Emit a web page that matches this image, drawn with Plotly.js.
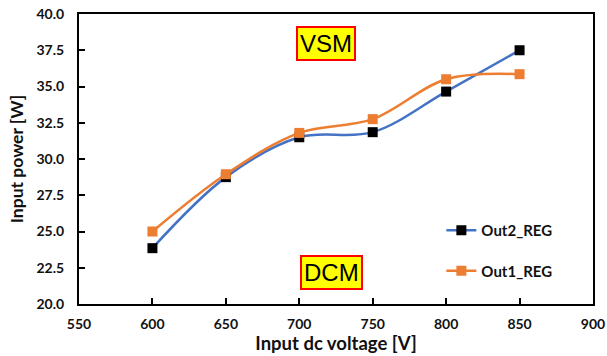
<!DOCTYPE html>
<html>
<head>
<meta charset="utf-8">
<script src="https://cdn.plot.ly/plotly-3.0.1.min.js"></script>
<style>
  html, body { margin: 0; padding: 0; background: #fff; }
  #chart { width: 607px; height: 356px; }
</style>
</head>
<body>
<div id="chart"></div>
<script>
// Input dc voltage [V]
const voltage = [600, 650, 700, 750, 800, 850];
// Input power [W] for each regulated output
const out2Reg = [23.85, 28.75, 31.5, 31.85, 34.65, 37.5];
const out1Reg = [25.0, 28.95, 31.8, 32.75, 35.5, 35.85];

const xTicks = [550, 600, 650, 700, 750, 800, 850, 900];
const yTicks = [20.0, 22.5, 25.0, 27.5, 30.0, 32.5, 35.0, 37.5, 40.0];

const fam = 'Lato, "Open Sans", sans-serif';
const tickFont = { family: fam, size: 14, color: '#111', weight: 'bold' };

const traces = [
  {
    x: voltage, y: out2Reg, name: 'Out2_REG', legendgroup: 'a',
    mode: 'lines+markers', type: 'scatter',
    line: { color: '#4472C4', width: 2.5, shape: 'spline', smoothing: 1 },
    marker: { symbol: 'square', size: 10, color: '#000000' }
  },
  {
    x: voltage, y: out1Reg, name: 'Out1_REG', legendgroup: 'b',
    mode: 'lines+markers', type: 'scatter',
    line: { color: '#ED7D31', width: 2.5, shape: 'spline', smoothing: 1 },
    marker: { symbol: 'square', size: 10, color: '#ED7D31' }
  }
];

const boxNote = (text, x, y) => ({
  text: text, x: x, y: y, xref: 'x', yref: 'y', showarrow: false,
  font: { family: '"Liberation Sans", Arial, sans-serif', size: 24, color: '#000' },
  bgcolor: '#FFFF00', bordercolor: '#FF0000', borderwidth: 2, borderpad: 2
});

const layout = {
  width: 607, height: 356,
  margin: { l: 79, r: 14, t: 14, b: 52 },
  paper_bgcolor: '#fff', plot_bgcolor: '#fff',
  showlegend: true,
  legend: {
    x: 0.705, y: 0.31, xanchor: 'left', yanchor: 'top',
    traceorder: 'grouped', tracegroupgap: 18,
    font: { family: fam, size: 15, color: '#111', weight: 'bold' },
    bgcolor: 'rgba(0,0,0,0)', itemwidth: 30
  },
  xaxis: {
    range: [550, 900], tickvals: xTicks, ticktext: xTicks.map(String),
    showgrid: false, zeroline: false,
    showline: true, linecolor: '#000', linewidth: 2, mirror: true,
    ticks: 'inside', ticklen: 6, tickwidth: 2, tickcolor: '#000',
    tickfont: tickFont, ticklabelstandoff: 6,
    title: { text: 'Input dc voltage [V]', font: { family: fam, size: 18.5, color: '#111', weight: 'bold' }, standoff: 1 }
  },
  yaxis: {
    range: [20, 40], tickvals: yTicks, ticktext: yTicks.map(v => v.toFixed(1)),
    showgrid: false, zeroline: false,
    showline: true, linecolor: '#000', linewidth: 2, mirror: true,
    ticks: 'inside', ticklen: 6, tickwidth: 2, tickcolor: '#000',
    tickfont: tickFont, ticklabelstandoff: 10,
    title: { text: 'Input power [W]', font: { family: fam, size: 17.5, color: '#111', weight: 'bold' }, standoff: 8 }
  },
  annotations: [
    boxNote('VSM', 718, 37.95),
    boxNote('DCM', 722, 22.15)
  ]
};

Plotly.newPlot('chart', traces, layout, { displayModeBar: false, staticPlot: true });
</script>
</body>
</html>
